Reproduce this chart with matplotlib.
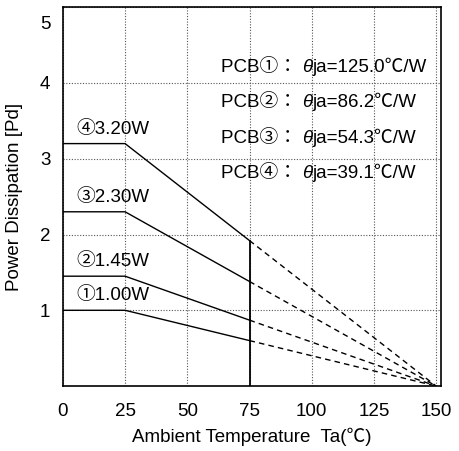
import matplotlib
matplotlib.use('Agg')
import matplotlib.pyplot as plt
from matplotlib.transforms import ScaledTranslation

plt.rcParams['font.family'] = ['Liberation Sans', 'Noto Sans CJK JP', 'DejaVu Sans']

# derating data
pd_max = [1.00, 1.45, 2.30, 3.20]
pcb_marks = ['①', '②', '③', '④']
theta_ja = [125.0, 86.2, 54.3, 39.1]
ta_knee = 25
ta_limit = 75
ta_zero = 150

x_ticks = [0, 25, 50, 75, 100, 125, 150]
y_ticks = [1, 2, 3, 4, 5]

fig = plt.figure(figsize=(4.59, 4.51), dpi=100)
ax = fig.add_axes([0.137, 0.144, 0.824, 0.840])

for p in pd_max:
    p_lim = p * (ta_zero - ta_limit) / (ta_zero - ta_knee)
    ax.plot([0, ta_knee, ta_limit], [p, p, p_lim], color='black', lw=1.0)
    ax.plot([ta_limit, ta_zero], [p_lim, 0], color='black', lw=1.0, ls=(0, (4, 3)))

top = max(pd_max) * (ta_zero - ta_limit) / (ta_zero - ta_knee)
ax.plot([ta_limit, ta_limit], [0, top], color='black', lw=1.3)

fs = 13.5
for mark, p in zip(pcb_marks, pd_max):
    ax.text(5.5, p + 0.08, '{0}{1:.2f}W'.format(mark, p), fontsize=fs, va='bottom', ha='left')

for i, (mark, th) in enumerate(zip(pcb_marks, theta_ja)):
    y = 4.145 - 0.468 * i
    t1 = ax.text(63.5, y, 'PCB{0}： '.format(mark), fontsize=fs, va='baseline', ha='left')
    t2 = ax.annotate('θ', xy=(1, 0), xycoords=t1, fontsize=fs, fontstyle='italic',
                     va='bottom', ha='left')
    ax.annotate('ja={0:.1f}℃/W'.format(th), xy=(1, 0), xycoords=t2, fontsize=fs,
                va='bottom', ha='left')

ax.set_xlim(0, 152)
ax.set_ylim(0, 5)
ax.set_xticks(x_ticks)
ax.set_yticks(y_ticks)
ax.tick_params(length=0, labelsize=fs)
ax.tick_params(axis='x', pad=12)
ax.tick_params(axis='y', pad=9)
ax.grid(True, color='#555555', ls=(0, (1, 1.5)), lw=0.8)
for s in ax.spines.values():
    s.set_linewidth(1.2)
ax.set_xlabel('Ambient Temperature  Ta(℃)', fontsize=fs, labelpad=6)
ax.set_ylabel('Power Dissipation [Pd]', fontsize=fs, labelpad=12)

lab5 = ax.get_yticklabels()[-1]
lab5.set_transform(lab5.get_transform() + ScaledTranslation(0, -11 / 72, fig.dpi_scale_trans))

fig.savefig('out.png', dpi=100)
